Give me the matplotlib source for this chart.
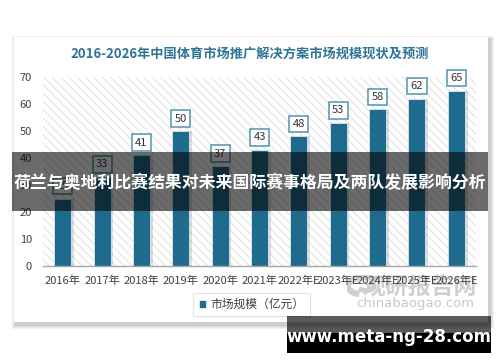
import matplotlib
matplotlib.use("Agg")
import matplotlib.pyplot as plt
from matplotlib.patches import Rectangle, Arc

plt.rcParams['font.family'] = ['Noto Sans CJK SC', 'DejaVu Sans']
plt.rcParams['hatch.color'] = '#e3e3e3'
plt.rcParams['hatch.linewidth'] = 0.8

# 数据
years = ['2016年', '2017年', '2018年', '2019年', '2020年', '2021年',
         '2022年E', '2023年E', '2024年E', '2025年E', '2026年E']
market_size = [25, 33, 41, 50, 37, 43, 48, 53, 58, 62, 65]
y_ticks = [0, 10, 20, 30, 40, 50, 60, 70]

title = '2016-2026年中国体育市场推广解决方案市场规模现状及预测'
legend_label = '市场规模（亿元）'
banner_text = '荷兰与奥地利比赛结果对未来国际赛事格局及两队发展影响分析'
site_text = 'www.meta-ng-28.com'

W, H = 500, 362
fig = plt.figure(figsize=(W / 100, H / 100), dpi=100)
fig.patch.set_facecolor('white')


def px(x, y, w, h):
    # 像素坐标 -> figure 坐标
    return (x / W, 1 - (y + h) / H), w / W, h / H


# 卡片阴影 + 卡片
for i in range(4):
    d = 4 - i
    xy, w, h = px(14 - d + 2, 37 - d + 3, 474 + 2 * d, 285 + 2 * d)
    fig.patches.append(Rectangle(xy, w, h, transform=fig.transFigure,
                                 facecolor='#000000', alpha=0.05, lw=0, zorder=-3))
xy, w, h = px(14, 37, 474, 285)
fig.patches.append(Rectangle(xy, w, h, transform=fig.transFigure,
                             facecolor='white', lw=0, zorder=-2))

fig.text(0.5, 1 - 54 / H, title, ha='center', va='center', fontsize=9.5,
         fontweight='bold', color='#2e7497')

# 水印（在坐标轴之下）
logo = fig.add_axes([347 / W, 1 - 297 / H, 34 / W, 22 / H], zorder=-1)
logo.set_xlim(0, 1)
logo.set_ylim(0, 1)
logo.axis('off')
logo.add_patch(Arc((0.5, 0.5), 0.95, 0.8, theta1=30, theta2=250, lw=4.5,
                   color='#d0d0d0'))
logo.add_patch(Arc((0.55, 0.5), 0.5, 0.4, theta1=210, theta2=60, lw=3.5,
                   color='#d0d0d0'))
fig.text(420 / W, 1 - 288 / H, '观研报告网', ha='center', va='center',
         fontsize=16.5, fontweight='bold', color='#cfcfcf', zorder=-1)
fig.text(415 / W, 1 - 304 / H, 'chinabaogao.com', ha='center', va='center',
         fontsize=9.5, color='#c8c8c8', family=['DejaVu Sans'], zorder=-1)

ax = fig.add_axes([43 / W, 1 - 266 / H, 433 / W, 189 / H])
ax.set_facecolor('none')
ax.add_patch(Rectangle((0, 0), 1, 1, transform=ax.transAxes, facecolor='white',
                       hatch='\\\\\\\\', lw=0, zorder=0))

x = list(range(len(years)))
bar_w = 0.43
# 柱子阴影
ax.bar([i + 0.07 for i in x], market_size, width=bar_w, color='#000000',
       alpha=0.13, zorder=1)
bars = ax.bar(x, market_size, width=bar_w, color='#1f6b8e', edgecolor='#dfeaf0',
              linewidth=0.6, zorder=2, label=legend_label)

for i, v in zip(x, market_size):
    ax.annotate(str(v), (i, v), xytext=(0, 9), textcoords='offset points',
                ha='center', va='center', fontsize=8, color='#333333', zorder=3,
                bbox=dict(boxstyle='square,pad=0.3', facecolor='white',
                          edgecolor='#5f9bb5', linewidth=1.2))

ax.set_xlim(-0.5, len(years) - 0.5)
ax.set_ylim(0, 70)
ax.set_yticks(y_ticks)
ax.set_xticks(x)
ax.set_xticklabels(years)
ax.tick_params(axis='both', length=0, labelsize=8, colors='#404040')
ax.tick_params(axis='x', pad=7)
ax.tick_params(axis='y', pad=8)
for s in ['top', 'right', 'left']:
    ax.spines[s].set_visible(False)
ax.spines['bottom'].set_color('#a6a6a6')
ax.spines['bottom'].set_linewidth(1)

leg = fig.legend(handles=[bars], labels=[legend_label], loc='center',
                 bbox_to_anchor=(251.5 / W, 1 - 304.5 / H), fontsize=8.5,
                 frameon=True, fancybox=False, handlelength=0.6, handleheight=0.6,
                 handletextpad=0.4, borderpad=0.45)
leg.get_frame().set_edgecolor('#d9d9d9')
leg.get_frame().set_linewidth(0.8)
for t in leg.get_texts():
    t.set_color('#404040')

# 中间横幅
xy, w, h = px(12, 152, 476, 59)
fig.patches.append(Rectangle(xy, w, h, transform=fig.transFigure,
                             facecolor='black', alpha=0.58, lw=0, zorder=10))
fig.text(0.5, 1 - 183 / H, banner_text, ha='center', va='center', fontsize=12.2,
         fontweight='bold', color='white', zorder=11)

# 底部网址
xy, w, h = px(287, 316, 204, 17)
fig.patches.append(Rectangle(xy, w, h, transform=fig.transFigure,
                             facecolor='black', alpha=0.65, lw=0, zorder=10))
xy, w, h = px(287, 333, 204, 20)
fig.patches.append(Rectangle(xy, w, h, transform=fig.transFigure,
                             facecolor='black', lw=0, zorder=10))
fig.text(389 / W, 1 - 337 / H, site_text, ha='center', va='center', fontsize=12,
         fontweight='bold', color='white', zorder=11, family=['DejaVu Sans'])

fig.savefig('out.png', dpi=100)
